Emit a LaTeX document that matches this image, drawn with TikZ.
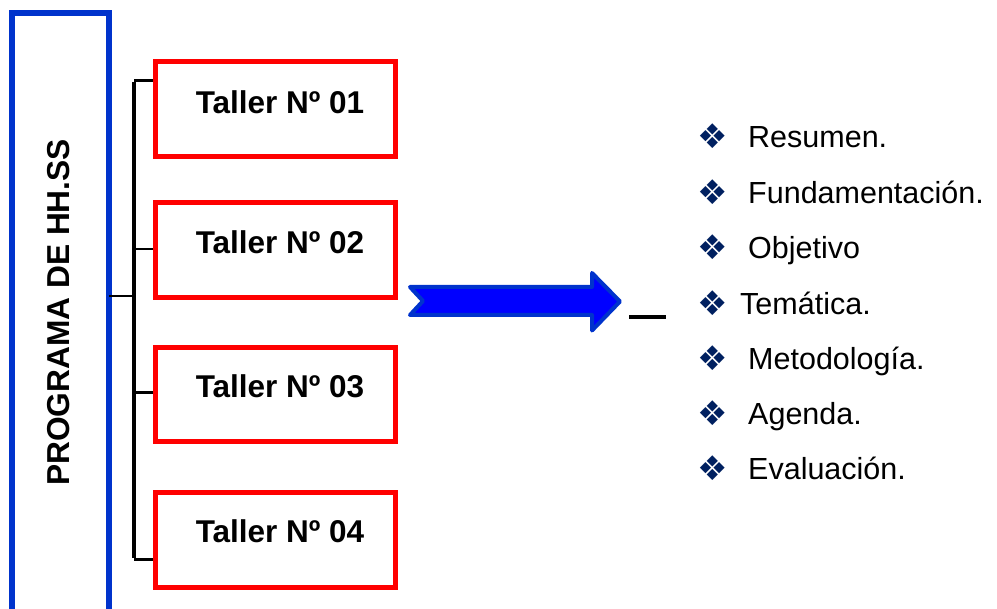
\documentclass[tikz,border=0pt]{standalone}
\usepackage{fontspec}
\setmainfont{Liberation Sans}
\newfontfamily\symfont{DejaVu Sans}
\definecolor{frameblue}{RGB}{0,51,204}
\definecolor{arrowfill}{RGB}{0,0,255}
\definecolor{tallerred}{RGB}{255,0,0}
\definecolor{navy}{RGB}{0,32,96}
\begin{document}
\begin{tikzpicture}[x=1pt,y=-1pt,
  tallerbox/.style={draw=tallerred, line width=5pt, fill=white},
  tallertext/.style={inner sep=0pt, font=\fontsize{31.5}{32}\selectfont\bfseries},
  tick/.style={line width=2.8pt, black},
  bulletsym/.style={inner sep=0pt, text=navy, font=\symfont\fontsize{34}{34}\selectfont},
  itemtext/.style={inner sep=0pt, anchor=base west, font=\fontsize{30.5}{32}\selectfont}]
\useasboundingbox (0,0) rectangle (997,609);
% blue frame (open at bottom)
\draw[frameblue, line width=6pt] (12,615) -- (12,13) -- (109,13) -- (109,615);
\node[inner sep=0pt, rotate=90, font=\fontsize{31.7}{32}\selectfont\bfseries] (title) at (59,312.5) {PROGRAMA DE HH.SS};
\coordinate (frameR) at (109,296);
% red boxes
\draw[tallerbox] (155.5,61.5) rectangle (395.5,157);
\draw[tallerbox] (155.5,203) rectangle (395.5,297.5);
\draw[tallerbox] (155.5,347.5) rectangle (395.5,441.5);
\draw[tallerbox] (155.5,493) rectangle (395.5,587.5);
\coordinate (b1) at (153,80.5);
\coordinate (b2) at (153,249);
\coordinate (b3) at (153,392.5);
\coordinate (b4) at (153,559.5);
\node[tallertext] (t1) at (280,102) {Taller Nº 01};
\node[tallertext] (t2) at (280,242) {Taller Nº 02};
\node[tallertext] (t3) at (280,386) {Taller Nº 03};
\node[tallertext] (t4) at (280,531.5) {Taller Nº 04};
% bracket
\coordinate (bt) at (134,80.5);
\coordinate (bb) at (134,559.5);
\draw[line width=3.6pt, black] ([yshift=-1.3pt]bt) -- ([yshift=1.3pt]bb);
\draw[tick] (bt) -- (b1);
\draw[tick] (134,249) -- (b2);
\draw[tick] (134,392.5) -- (b3);
\draw[tick] (bb) -- (b4);
\draw[tick] (frameR) -- (134,296);
% arrow
\draw[frameblue, fill=arrowfill, line width=4pt, line join=round]
  (410,287) -- (592,287) -- (592,273) -- (620,301.5) -- (592,330.5) -- (592,315) -- (410,315) -- (423,301) -- cycle;
\coordinate (dashL) at (629,317.5);
\coordinate (dashR) at (666,317.5);
\draw[line width=4pt, black] (dashL) -- (dashR);
% bullet list
\foreach \y/\t/\dx [count=\i] in {136/Resumen./748, 191.7/Fundamentación./748, 246.7/Objetivo/748, 302.7/Temática./740, 358/Metodología./748, 413/Agenda./748, 468.3/Evaluación./748}{
  \node[bulletsym] (bul\i) at (713,\y) {❖};
  \node[itemtext] (item\i) at (\dx,\y+11.5) {\t};
}
\end{tikzpicture}
\end{document}
